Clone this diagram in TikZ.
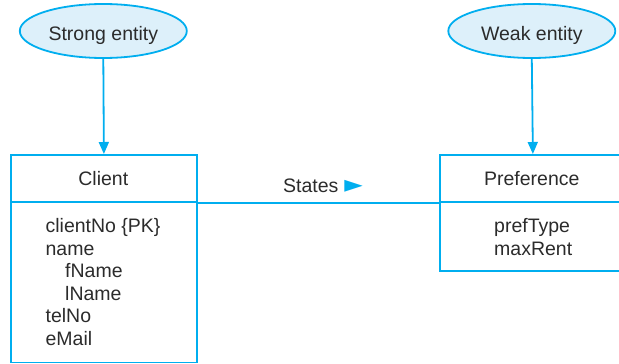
\documentclass[tikz,border=0pt]{standalone}
\usepackage{fontspec}
\setmainfont{Liberation Sans}
\newfontfamily\symfont{DejaVu Sans}
\usetikzlibrary{shapes.geometric,arrows.meta}
\definecolor{erline}{HTML}{00AEEF}
\definecolor{erfill}{HTML}{DDF0FA}
\definecolor{ertext}{HTML}{2B2B2B}
\begin{document}
\begin{tikzpicture}[x=1pt,y=-1pt,
  every node/.style={text=ertext, font=\fontsize{19.5}{22}\selectfont},
  entnote/.style={ellipse, draw=erline, fill=erfill, line width=1.8pt, minimum width=167pt, minimum height=54pt},
  boxpart/.style={rectangle, draw=erline, line width=1.8pt, minimum width=186pt, anchor=north west, inner sep=0pt},
  link/.style={draw=erline, line width=1.8pt},
  attr/.style={anchor=base west, inner sep=0pt}
]
\useasboundingbox (0,0) rectangle (619,364);
\clip (0,0) rectangle (619,364);
% ellipses
\node[entnote] (strong) at (103.3,31) {};
\node at (103.3,40) [anchor=base, inner sep=0pt] (strongtxt) {Strong entity};
\node[entnote] (weak) at (531.8,31) {};
\node at (531.8,40) [anchor=base, inner sep=0pt] (weaktxt) {Weak entity};
% boxes
\node[boxpart, minimum height=47pt] (clienthead) at (10,154) {};
\node[boxpart, minimum height=160.5pt] (clientbody) at (10,201) {};
\node[boxpart, minimum height=47pt] (prefhead) at (439,154) {};
\node[boxpart, minimum height=69pt] (prefbody) at (439,201) {};
% arrows
\draw[link, -{Triangle[width=10pt,length=12pt]}] (strong.south) -- (clienthead.north);
\draw[link, -{Triangle[width=10pt,length=12pt]}] (weak.south) -- (prefhead.north);
% relationship
\draw[link] (clienthead.south east) -- (prefhead.south west);
\node[anchor=base west, inner sep=0pt] (states) at (283,192.7) {States\hspace{6pt}{\color{erline}\symfont\fontsize{24}{24}\selectfont ►}};
% header texts
\node[anchor=base, inner sep=0pt] (clientname) at (103.3,185.7) {Client};
\node[anchor=base, inner sep=0pt] (prefname) at (531.8,185.7) {Preference};
% attributes
\node[attr] (a1) at (45.4,232.7) {clientNo \{PK\}};
\node[attr] (a2) at (45.4,255) {name};
\node[attr] (a3) at (65,277.7) {fName};
\node[attr] (a4) at (65,300) {lName};
\node[attr] (a5) at (45.4,322) {telNo};
\node[attr] (a6) at (45.4,345) {eMail};
\node[attr] (p1) at (494,232.7) {prefType};
\node[attr] (p2) at (494,255) {maxRent};
\end{tikzpicture}
\end{document}
